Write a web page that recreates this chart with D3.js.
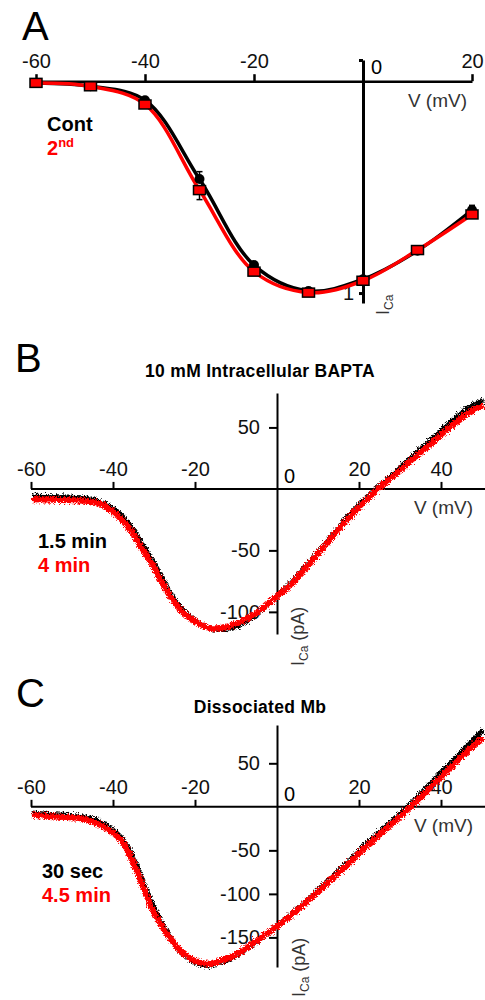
<!DOCTYPE html>
<html lang="en">
<head>
  <meta charset="UTF-8" />
  <title>I-V curves</title>
  <script src="https://d3js.org/d3.v7.min.js"></script>
  <style>
    body { margin: 0; background: #fff; }
    svg text { font-family: "Liberation Sans", Arial, sans-serif; }
    .domain, .tick line { stroke: #000; }
  </style>
</head>
<body>
  <svg id="fig" width="485" height="1000"></svg>

  <script>
    // ---- Panel A: normalized I-V (points + fits)
    const vA = [-60, -50, -40, -30, -20, -10, 0, 10, 20];
    const contA = [-0.008, -0.024, -0.09, -0.462, -0.868, -0.99, -0.935, -0.80, -0.608];
    const secondA = [-0.008, -0.024, -0.11, -0.514, -0.899, -0.998, -0.942, -0.797, -0.629];
    const contErr = [0, 0, 0.012, 0.035, 0.012, 0.005, 0.01, 0.01, 0.022];
    const secondErr = [0, 0, 0.008, 0.045, 0.008, 0.005, 0.008, 0.008, 0.008];
    const xTicksA = [-60, -40, -20, 20];

    // ---- Panel B: 10 mM intracellular BAPTA ramps (pA)
    const vB = [-60, -55, -50, -46.3, -43.2, -39.1, -35.9, -33.4, -31, -28.5, -26.1, -23.7, -20.4,
                -17.1, -13.9, -9.8, -5.8, -1.7, 2.4, 8.8, 13.7, 18.5, 24, 30, 38, 46, 50];
    const bI15 = [-5, -5.5, -6, -7, -10, -18, -30, -43, -56, -71, -85, -96, -106,
                  -112, -113.5, -110, -102, -90, -78, -54, -35, -16, 1, 19, 43, 66, 73];
    const bI4 = [-7.5, -8, -8.5, -9, -11.5, -21, -33, -46.5, -59, -74, -87.5, -98, -106.5,
                 -112, -112, -108, -101, -90, -79, -55, -36, -18, 0, 17, 40, 62, 69];
    const yTicksB = [50, -50, -100];

    // ---- Panel C: dissociated Mb ramps (pA)
    const vC = [-60, -54.5, -48, -44, -40.7, -38.3, -35.8, -33.4, -31, -28.5, -26.1, -23.7, -20.4,
                -17.2, -13.9, -9.8, -5.8, -1.6, 2.4, 6.4, 14.6, 22.7, 32, 39, 45.4, 50];
    const cI30 = [-6, -8, -10, -15, -24, -34, -53, -80, -108, -131, -150, -166, -177,
                  -181, -177, -168, -155, -140, -125, -109, -73, -36, 3, 37, 68, 90];
    const cI45 = [-8, -10, -12, -18, -27, -37, -58, -85, -114, -135, -151, -165, -175,
                  -179, -175, -167, -154, -140, -126, -110, -75, -39, 0, 32, 62, 81];
    const yTicksC = [50, -50, -100, -150];

    const xTicksBC = [-60, -40, -20, 20, 40];

    const svg = d3.select("#fig");
    const RED = "#ff0000";
    const plain = d => String(d);   // keep the hyphen minus of the original

    // jitter so the ramp traces look like recorded data
    const defs = svg.append("defs");
    const f = defs.append("filter").attr("id", "rough")
      .attr("x", "-5%").attr("y", "-5%").attr("width", "110%").attr("height", "110%");
    f.append("feTurbulence").attr("type", "turbulence")
      .attr("baseFrequency", 1.2).attr("numOctaves", 2).attr("seed", 3).attr("result", "n");
    f.append("feDisplacementMap").attr("in", "SourceGraphic").attr("in2", "n")
      .attr("scale", 5).attr("xChannelSelector", "R").attr("yChannelSelector", "G");

    function panelLabel(txt, x, y) {
      svg.append("text").attr("x", x).attr("y", y)
        .style("font-size", "40px").text(txt);
    }

    function xAxis(x, y0, ticks, width) {
      const g = svg.append("g")
        .attr("transform", `translate(0,${y0})`)
        .call(d3.axisTop(x).tickValues(ticks).tickSize(7).tickSizeOuter(0).tickPadding(6)
          .tickFormat(plain));
      g.select(".domain").attr("stroke-width", width);
      g.selectAll(".tick line").attr("stroke-width", width);
      g.selectAll(".tick text").style("font-size", "20px").attr("fill", "#111");
      return g;
    }

    function yAxis(y, x0, ticks, width, fmt, pad) {
      const g = svg.append("g")
        .attr("transform", `translate(${x0},0)`)
        .call(d3.axisLeft(y).tickValues(ticks).tickSize(8).tickSizeOuter(0).tickPadding(pad)
          .tickFormat(fmt));
      g.select(".domain").attr("stroke-width", width);
      g.selectAll(".tick line").attr("stroke-width", width);
      g.selectAll(".tick text").style("font-size", "20px").attr("fill", "#111");
      return g;
    }

    function iLabel(x, y, withUnit) {
      const t = svg.append("text")
        .attr("transform", `translate(${x},${y}) rotate(-90)`)
        .style("font-size", "18px").attr("fill", "#333");
      t.append("tspan").text("I");
      t.append("tspan").style("font-size", "12px").attr("dy", 4).text("Ca");
      if (withUnit) t.append("tspan").attr("dy", -4).text(" (pA)");
    }

    function legend(x, y, a, b, sup) {
      svg.append("text").attr("x", x).attr("y", y)
        .style("font-size", "20px").style("font-weight", "bold").text(a);
      const t = svg.append("text").attr("x", x).attr("y", y + 24)
        .style("font-size", "20px").style("font-weight", "bold").attr("fill", RED);
      t.append("tspan").text(b);
      if (sup) t.append("tspan").style("font-size", "13px").attr("dy", -8).text(sup);
    }

    // ================= A =================
    panelLabel("A", 22, 40);
    const xA = d3.scaleLinear().domain([-60, 20]).range([36, 472]);
    const yA = d3.scaleLinear().domain([-1.047, 0.1]).range([303, 60]);

    const ptsCont = vA.map((v, i) => ({ v, i: contA[i], e: contErr[i] }));
    const ptsSec = vA.map((v, i) => ({ v, i: secondA[i], e: secondErr[i] }));

    const fitLine = d3.line().x(d => xA(d.v)).y(d => yA(d.i)).curve(d3.curveCatmullRom.alpha(0.5));

    xAxis(xA, yA(0), xTicksA, 2.5);
    yAxis(yA, xA(0), [0.1, -1], 3, d => d === -1 ? "1" : "", 1)
      .selectAll(".tick line").attr("x2", -4);
    svg.append("text").attr("x", xA(0) + 8).attr("y", yA(0) - 7)
      .style("font-size", "20px").text("0");
    svg.append("text").attr("x", 467).attr("y", 107).attr("text-anchor", "end")
      .style("font-size", "19px").attr("fill", "#333").text("V (mV)");
    iLabel(389, 315, false);

    svg.append("path").datum(ptsCont).attr("d", fitLine)
      .attr("fill", "none").attr("stroke", "#000").attr("stroke-width", 3.5);
    svg.append("path").datum(ptsSec).attr("d", fitLine)
      .attr("fill", "none").attr("stroke", RED).attr("stroke-width", 3.5);

    // error bars: control drawn upward, 2nd drawn downward
    [[ptsCont, 1], [ptsSec, -1]].forEach(([pts, dir]) => {
      const eb = svg.append("g").attr("stroke", "#000").attr("stroke-width", 1.5);
      pts.filter(d => d.e > 0.006).forEach(d => {
        const x = xA(d.v), y1 = yA(d.i), y2 = yA(d.i + dir * d.e);
        eb.append("line").attr("x1", x).attr("x2", x).attr("y1", y1).attr("y2", y2);
        eb.append("line").attr("x1", x - 3).attr("x2", x + 3).attr("y1", y2).attr("y2", y2);
      });
    });

    svg.append("g").selectAll("circle").data(ptsCont).join("circle")
      .attr("cx", d => xA(d.v)).attr("cy", d => yA(d.i)).attr("r", 5)
      .attr("fill", "#000");
    svg.append("g").selectAll("rect").data(ptsSec).join("rect")
      .attr("x", d => xA(d.v) - 6).attr("y", d => yA(d.i) - 4.5)
      .attr("width", 12).attr("height", 9)
      .attr("fill", RED).attr("stroke", "#000").attr("stroke-width", 1.5);

    legend(47, 131, "Cont", "2", "nd");

    // ================= B & C =================
    function rampPanel(opt) {
      panelLabel(opt.letter, opt.lx, opt.ly);
      svg.append("text").attr("x", 260).attr("y", opt.ty).attr("text-anchor", "middle")
        .style("font-size", "17.5px").style("font-weight", "bold")
        .style("letter-spacing", "0.3px").text(opt.title);

      const x = d3.scaleLinear().domain([-60, 50]).range([31, 482]);
      const y = d3.scaleLinear().domain(opt.yDom).range(opt.yRange);

      const gx = xAxis(x, y(0), xTicksBC, 2);
      gx.select(".domain").attr("d", `M31,0H485`);
      yAxis(y, x(0), opt.yTicks, 2, plain, 9);

      svg.append("text").attr("x", x(0) + 7).attr("y", y(0) - 6)
        .style("font-size", "20px").text("0");
      svg.append("text").attr("x", 473).attr("y", y(0) + 25).attr("text-anchor", "end")
        .style("font-size", "19px").attr("fill", "#333").text("V (mV)");
      iLabel(opt.ix, opt.iy, true);

      const line = d3.line().x(d => x(d[0])).y(d => y(d[1])).curve(d3.curveCatmullRom.alpha(0.5));
      const tr1 = opt.v.map((v, i) => [v, opt.first[i]]);
      const tr2 = opt.v.map((v, i) => [v, opt.second[i]]);
      svg.append("path").datum(tr1).attr("d", line)
        .attr("fill", "none").attr("stroke", "#000").attr("stroke-width", 5)
        .attr("filter", "url(#rough)");
      svg.append("path").datum(tr2).attr("d", line)
        .attr("fill", "none").attr("stroke", RED).attr("stroke-width", 6)
        .attr("filter", "url(#rough)");

      legend(opt.gx, opt.gy, opt.names[0], opt.names[1]);
    }

    rampPanel({
      letter: "B", lx: 15, ly: 372, title: "10 mM Intracellular BAPTA", ty: 377,
      yDom: [-118, 78], yRange: [634, 393], yTicks: yTicksB,
      v: vB, first: bI15, second: bI4, names: ["1.5 min", "4 min"],
      gx: 38, gy: 548, ix: 304, iy: 666
    });

    rampPanel({
      letter: "C", lx: 16, ly: 707, title: "Dissociated Mb", ty: 713,
      yDom: [-184, 94], yRange: [967, 725], yTicks: yTicksC,
      v: vC, first: cI30, second: cI45, names: ["30 sec", "4.5 min"],
      gx: 42, gy: 878, ix: 305, iy: 997
    });
  </script>
</body>
</html>
